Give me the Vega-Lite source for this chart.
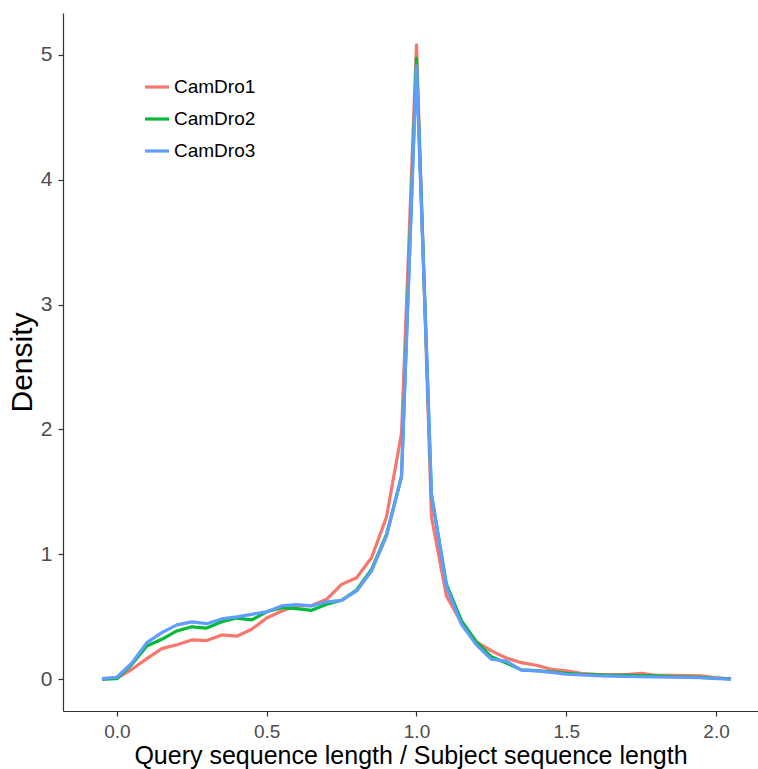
{
  "$schema": "https://vega.github.io/schema/vega-lite/v6.json",
  "width": 695,
  "height": 698,
  "autosize": "none",
  "padding": {"left": 63, "top": 13, "right": 0, "bottom": 58},
  "background": "white",
  "config": {"view": {"stroke": null}, "font": "Liberation Sans"},
  "datasets": {
    "r": [
      {"x": -0.05, "s": "CamDro1", "d": 0}, {"x": 0, "s": "CamDro1", "d": 0.01}, {"x": 0.05, "s": "CamDro1", "d": 0.08}, {"x": 0.1, "s": "CamDro1", "d": 0.165}, {"x": 0.15, "s": "CamDro1", "d": 0.245}, {"x": 0.2, "s": "CamDro1", "d": 0.277}, {"x": 0.25, "s": "CamDro1", "d": 0.315}, {"x": 0.3, "s": "CamDro1", "d": 0.31}, {"x": 0.35, "s": "CamDro1", "d": 0.355}, {"x": 0.4, "s": "CamDro1", "d": 0.345}, {"x": 0.45, "s": "CamDro1", "d": 0.4}, {"x": 0.5, "s": "CamDro1", "d": 0.49}, {"x": 0.55, "s": "CamDro1", "d": 0.547}, {"x": 0.6, "s": "CamDro1", "d": 0.587}, {"x": 0.65, "s": "CamDro1", "d": 0.59}, {"x": 0.7, "s": "CamDro1", "d": 0.64}, {"x": 0.75, "s": "CamDro1", "d": 0.76}, {"x": 0.8, "s": "CamDro1", "d": 0.813}, {"x": 0.85, "s": "CamDro1", "d": 0.973}, {"x": 0.9, "s": "CamDro1", "d": 1.3}, {"x": 0.95, "s": "CamDro1", "d": 1.97}, {"x": 1.0, "s": "CamDro1", "d": 5.08}, {"x": 1.05, "s": "CamDro1", "d": 1.3}, {"x": 1.1, "s": "CamDro1", "d": 0.667}, {"x": 1.15, "s": "CamDro1", "d": 0.45}, {"x": 1.2, "s": "CamDro1", "d": 0.3}, {"x": 1.25, "s": "CamDro1", "d": 0.227}, {"x": 1.3, "s": "CamDro1", "d": 0.17}, {"x": 1.35, "s": "CamDro1", "d": 0.133}, {"x": 1.4, "s": "CamDro1", "d": 0.112}, {"x": 1.45, "s": "CamDro1", "d": 0.08}, {"x": 1.5, "s": "CamDro1", "d": 0.067}, {"x": 1.55, "s": "CamDro1", "d": 0.048}, {"x": 1.6, "s": "CamDro1", "d": 0.04}, {"x": 1.65, "s": "CamDro1", "d": 0.037}, {"x": 1.7, "s": "CamDro1", "d": 0.037}, {"x": 1.75, "s": "CamDro1", "d": 0.048}, {"x": 1.8, "s": "CamDro1", "d": 0.032}, {"x": 1.85, "s": "CamDro1", "d": 0.032}, {"x": 1.9, "s": "CamDro1", "d": 0.029}, {"x": 1.95, "s": "CamDro1", "d": 0.027}, {"x": 2.0, "s": "CamDro1", "d": 0.011}, {"x": 2.05, "s": "CamDro1", "d": 0.003},
      {"x": -0.05, "s": "CamDro2", "d": 0}, {"x": 0, "s": "CamDro2", "d": 0.005}, {"x": 0.05, "s": "CamDro2", "d": 0.12}, {"x": 0.1, "s": "CamDro2", "d": 0.267}, {"x": 0.15, "s": "CamDro2", "d": 0.32}, {"x": 0.2, "s": "CamDro2", "d": 0.387}, {"x": 0.25, "s": "CamDro2", "d": 0.42}, {"x": 0.3, "s": "CamDro2", "d": 0.41}, {"x": 0.35, "s": "CamDro2", "d": 0.46}, {"x": 0.4, "s": "CamDro2", "d": 0.49}, {"x": 0.45, "s": "CamDro2", "d": 0.475}, {"x": 0.5, "s": "CamDro2", "d": 0.54}, {"x": 0.55, "s": "CamDro2", "d": 0.573}, {"x": 0.6, "s": "CamDro2", "d": 0.565}, {"x": 0.65, "s": "CamDro2", "d": 0.552}, {"x": 0.7, "s": "CamDro2", "d": 0.6}, {"x": 0.75, "s": "CamDro2", "d": 0.632}, {"x": 0.8, "s": "CamDro2", "d": 0.715}, {"x": 0.85, "s": "CamDro2", "d": 0.88}, {"x": 0.9, "s": "CamDro2", "d": 1.16}, {"x": 0.95, "s": "CamDro2", "d": 1.62}, {"x": 1.0, "s": "CamDro2", "d": 4.97}, {"x": 1.05, "s": "CamDro2", "d": 1.48}, {"x": 1.1, "s": "CamDro2", "d": 0.76}, {"x": 1.15, "s": "CamDro2", "d": 0.47}, {"x": 1.2, "s": "CamDro2", "d": 0.3}, {"x": 1.25, "s": "CamDro2", "d": 0.18}, {"x": 1.3, "s": "CamDro2", "d": 0.13}, {"x": 1.35, "s": "CamDro2", "d": 0.075}, {"x": 1.4, "s": "CamDro2", "d": 0.07}, {"x": 1.45, "s": "CamDro2", "d": 0.06}, {"x": 1.5, "s": "CamDro2", "d": 0.048}, {"x": 1.55, "s": "CamDro2", "d": 0.04}, {"x": 1.6, "s": "CamDro2", "d": 0.035}, {"x": 1.65, "s": "CamDro2", "d": 0.032}, {"x": 1.7, "s": "CamDro2", "d": 0.032}, {"x": 1.75, "s": "CamDro2", "d": 0.03}, {"x": 1.8, "s": "CamDro2", "d": 0.027}, {"x": 1.85, "s": "CamDro2", "d": 0.022}, {"x": 1.9, "s": "CamDro2", "d": 0.02}, {"x": 1.95, "s": "CamDro2", "d": 0.015}, {"x": 2.0, "s": "CamDro2", "d": 0.008}, {"x": 2.05, "s": "CamDro2", "d": 0.003},
      {"x": -0.05, "s": "CamDro3", "d": 0.005}, {"x": 0, "s": "CamDro3", "d": 0.016}, {"x": 0.05, "s": "CamDro3", "d": 0.13}, {"x": 0.1, "s": "CamDro3", "d": 0.293}, {"x": 0.15, "s": "CamDro3", "d": 0.373}, {"x": 0.2, "s": "CamDro3", "d": 0.435}, {"x": 0.25, "s": "CamDro3", "d": 0.46}, {"x": 0.3, "s": "CamDro3", "d": 0.445}, {"x": 0.35, "s": "CamDro3", "d": 0.483}, {"x": 0.4, "s": "CamDro3", "d": 0.5}, {"x": 0.45, "s": "CamDro3", "d": 0.52}, {"x": 0.5, "s": "CamDro3", "d": 0.54}, {"x": 0.55, "s": "CamDro3", "d": 0.587}, {"x": 0.6, "s": "CamDro3", "d": 0.597}, {"x": 0.65, "s": "CamDro3", "d": 0.587}, {"x": 0.7, "s": "CamDro3", "d": 0.62}, {"x": 0.75, "s": "CamDro3", "d": 0.632}, {"x": 0.8, "s": "CamDro3", "d": 0.707}, {"x": 0.85, "s": "CamDro3", "d": 0.867}, {"x": 0.9, "s": "CamDro3", "d": 1.147}, {"x": 0.95, "s": "CamDro3", "d": 1.63}, {"x": 1.0, "s": "CamDro3", "d": 4.91}, {"x": 1.05, "s": "CamDro3", "d": 1.48}, {"x": 1.1, "s": "CamDro3", "d": 0.74}, {"x": 1.15, "s": "CamDro3", "d": 0.44}, {"x": 1.2, "s": "CamDro3", "d": 0.275}, {"x": 1.25, "s": "CamDro3", "d": 0.16}, {"x": 1.3, "s": "CamDro3", "d": 0.145}, {"x": 1.35, "s": "CamDro3", "d": 0.073}, {"x": 1.4, "s": "CamDro3", "d": 0.067}, {"x": 1.45, "s": "CamDro3", "d": 0.055}, {"x": 1.5, "s": "CamDro3", "d": 0.04}, {"x": 1.55, "s": "CamDro3", "d": 0.035}, {"x": 1.6, "s": "CamDro3", "d": 0.028}, {"x": 1.65, "s": "CamDro3", "d": 0.025}, {"x": 1.7, "s": "CamDro3", "d": 0.022}, {"x": 1.75, "s": "CamDro3", "d": 0.02}, {"x": 1.8, "s": "CamDro3", "d": 0.018}, {"x": 1.85, "s": "CamDro3", "d": 0.016}, {"x": 1.9, "s": "CamDro3", "d": 0.015}, {"x": 1.95, "s": "CamDro3", "d": 0.012}, {"x": 2.0, "s": "CamDro3", "d": 0.005}, {"x": 2.05, "s": "CamDro3", "d": 0.002}
    ]
  },
  "data": {"name": "r"},
  "mark": {"type": "line", "strokeWidth": 3.2, "clip": true, "strokeJoin": "round"},
  "encoding": {
    "x": {
      "field": "x", "type": "quantitative",
      "scale": {"domain": [-0.18, 2.14], "nice": false, "zero": false},
      "axis": {
        "values": [0, 0.5, 1, 1.5, 2], "format": ".1f",
        "title": "Query sequence length / Subject sequence length",
        "grid": false, "domainColor": "#333333", "domainWidth": 1.2, "tickColor": "#333333", "tickWidth": 1.2, "tickSize": 5,
        "labelFontSize": 19, "labelColor": "#4D4D4D", "labelPadding": 6,
        "titleFontSize": 25, "titleFontWeight": "normal", "titleColor": "#000000", "titlePadding": 2
      }
    },
    "y": {
      "field": "d", "type": "quantitative",
      "scale": {"domain": [-0.254, 5.334], "nice": false, "zero": false},
      "axis": {
        "values": [0, 1, 2, 3, 4, 5], "format": "d",
        "title": "Density",
        "grid": false, "domainColor": "#333333", "domainWidth": 1.2, "tickColor": "#333333", "tickWidth": 1.2, "tickSize": 5,
        "labelFontSize": 21, "labelColor": "#4D4D4D", "labelPadding": 6,
        "titleFontSize": 30, "titleFontWeight": "normal", "titleColor": "#000000", "titlePadding": 3
      }
    },
    "color": {
      "field": "s", "type": "nominal",
      "scale": {"domain": ["CamDro1", "CamDro2", "CamDro3"], "range": ["#F8766D", "#00BA38", "#619CFF"]},
      "legend": {
        "orient": "none", "legendX": 80, "legendY": 60, "title": null, "padding": 0,
        "symbolType": "stroke", "symbolStrokeWidth": 3.2, "symbolSize": 576,
        "labelFontSize": 19, "labelColor": "#000000", "labelOffset": 3, "rowPadding": 8
      }
    }
  }
}
